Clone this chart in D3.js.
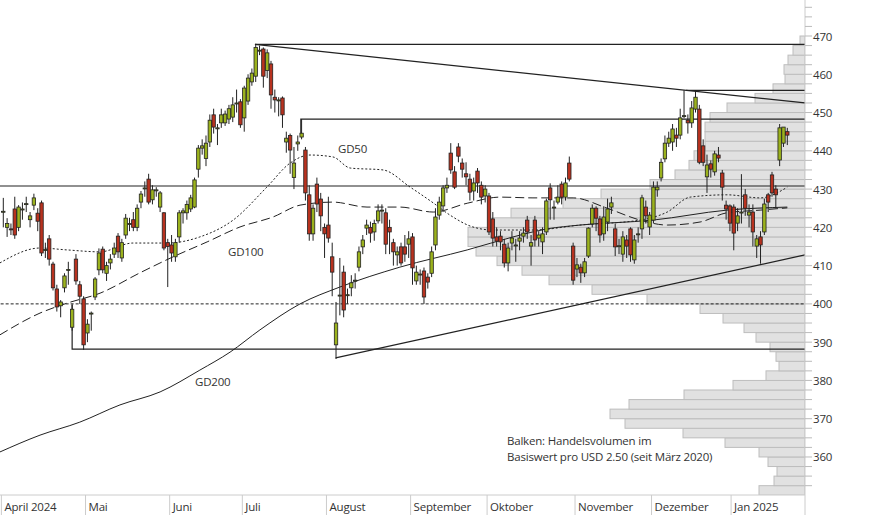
<!DOCTYPE html>
<html><head><meta charset="utf-8">
<script src="https://cdn.jsdelivr.net/npm/d3@7"></script>
<style>
body{margin:0;background:#fff;}
text{font-family:"Open Sans","Noto Sans",sans-serif;fill:#333;letter-spacing:-0.2px;}
</style></head>
<body><svg width="874" height="515"></svg>
<script>
const svg=d3.select('svg');
const width=+svg.attr('width'), height=+svg.attr('height');
const plotRight=805, plotBottom=495;

// daily candles [open, high, low, close], April 2024 - Jan 2025
const candles=[
[424,427.7,420,424.2],[420,422.4,417.5,421],[419.6,421,418,419.4],[424.8,428,417,418],[420,425.8,419,425.3],
[424.6,426.5,422,424.8],[426,428,424,426.2],[422,424,420,423],[425.8,428.8,424.5,427.7],[423.7,425,419,421.6],
[426.4,427,412.5,413.3],[414,416,412,414.2],[417,418,410,411.7],[410.4,411,403.5,404.2],[403.9,405,398,399.2],
[399.5,401,396.5,400.5],[404.2,408,403,407.3],[408.8,411,405,409],[393.9,400,393,398.6],[411.7,413,405,406],
[405,406,400,402],[401.3,402,388,389.3],[392.4,396,390,394.7],[397.4,398,393,397.6],[401.8,407,401,406.5],
[408.9,414.5,407.5,413.3],[414.3,415,408,408.9],[408,411,406,410],[410.7,413,409,411.7],[413,416,412,414.6],
[417.7,418.5,412,413.6],[412,417,411,416],[418,423.5,417,422.4],[420.8,422.5,419,421],[422,424,419,420],
[420,426,419,425],[426.6,429.5,425,428.7],[430.1,432,428,430.3],[432.6,434,426,426.6],[427.2,431,426,429.8],
[429.6,430.5,428,429.8],[425.3,429.5,424,429],[423.8,424,414,414.6],[416,417,404.4,415],[415.4,418,411,413.3],
[412.3,417,411,416],[417.5,424.5,416,423.8],[423.8,425,421,424.3],[423.8,427,422,426],[424.8,428.5,424,427.7],
[425.3,433,425,432.4],[435.2,441.5,433,440.7],[440.7,443,439,441.3],[438,444,436,442],[442.3,449.5,441,448],
[449.4,451,444.5,446.2],[445.8,447,441.5,446],[447.3,451,446,449.4],[447.3,450.5,446.5,449.6],[448.3,452,447,451],
[448.8,454,447.5,452],[452.3,456,450,452.5],[452.8,453.5,446,446.8],[448.6,457,445,456.4],[453,460,452,459],
[458,461.5,457,460.3],[459.5,467.8,458,467],[466.1,467.5,465,466.3],[466.6,467,456.5,459.5],[461,466.5,459,465.6],
[462.7,463.5,451,454.6],[454,456,450,453.3],[453.1,454,449,453.3],[453.8,454.2,446,449.4],[442.3,445,439.5,443.3],
[444,444.5,434,440.2],[433,441,430,436.8],[441.8,444,440,442.3],[443.6,448.3,443,444.6],[440.2,441,427,429],
[428.5,431,416.5,418.3],[418.3,426,416.5,425],[431.3,433,424,426.1],[427.4,429,419,423],[420,421,412,418.3],
[420.6,428,416,417.2],[412.3,416,402,408.3],[389.3,400.5,385.6,395],[402.1,412,397,402.3],[408.3,410,396.5,398.4],
[402.2,404,400,402.4],[404.2,407.5,402,405.5],[406,408,404,406.2],[409.6,415,408.5,413.6],[414.9,418,413,416.7],
[419.8,422,418,420.6],[420,421.5,416,418.5],[418.8,422,416.5,421],[421.7,426,421,424.3],[424.3,426,421,424.5],
[423.8,425,413,415.6],[420,422,413,418.8],[416,417,410,413.6],[412.8,415,410,413.6],[414.9,416,410,410.7],
[414.9,418,411,413],[415.6,419,412,417],[417.5,418.5,405,409.4],[406,410,405,408.3],[407.6,409,405,407.8],
[408.6,409.5,400,401.8],[407,408,404,405.7],[408,415,407,413.6],[415.4,425,414,422.7],[423.2,428,422,426.6],
[425.6,431,424,430.3],[430.3,433,429,431],[439.4,442,434,435],[434.5,436,430,430.5],[441,442,437,438.6],
[436.8,438,433,435.2],[434,437,431,433.2],[432.6,434,427,429.2],[429.5,433,427,431.6],[434.7,435.5,429,431.6],
[431,432,426,427.9],[428.2,431,426.5,430],[428.2,429,418,418.8],[422.2,424,415,417.2],[417.5,420,415,416.4],
[417.7,419,414,416.2],[415.6,417,409.5,410.7],[410.7,416,408.5,414.6],[415.9,419,414,417.2],[415.2,417,411,415.4],
[416.4,419,414,417.2],[417.7,420,416,418.5],[421.9,423,417,418.8],[415.1,418,410,416],[421.9,423,415,416.7],
[417.2,419,415,418],[416.2,420,413,418.3],[418.8,427.5,418,426.9],[430.3,431.5,422,427.2],[425.1,427,422,425.3],
[426.6,431,426,427.9],[431.3,432,426,427.9],[427.9,433,427,431.6],[436.8,438.5,432,432.6],[415.1,416,405,406.2],
[409.1,412,407,410.2],[409.6,410.5,405.5,408.1],[408.1,412,407,411],[412.5,420,412,419.8],[420.9,426,420,425],
[425,425.5,419,422.4],[422.2,423,416,418],[418.3,425.5,416.5,422.7],[421.4,427.5,419,424.8],[425.3,428,423.5,426.4],
[419.6,421,412.5,414.9],[415,417,413,415.2],[413,419,411,417.5],[416.7,418,412,415.1],[419.6,420,411,412.8],
[411.5,418,410.5,416.7],[418.1,420,416,418.3],[419.6,428.5,417,427.7],[425.3,427,421,423],[420.1,424,418,423.2],
[421.9,432,421,430.5],[429.8,432,428,430.5],[432.9,438,432,437],[437.9,444,437,442],[442,445,441,443.3],
[442.3,447,440,445.7],[444.1,446,441,443.3],[444.1,451,443,448.6],[449,455.8,448.5,449.2],[448,449.5,444.5,447.3],
[447.3,453,446,451.2],[450.9,455.8,450,454],[450.9,452,436.5,437],[441.3,443,436,437],[433.2,439,429,436.3],
[436.6,437.5,433,435.2],[434.5,440,433.5,439.2],[438.9,441,437,438.1],[434.2,435,427,430.5],[425.8,427,422,424.8],
[425.6,426,419,421.1],[425.3,426,414,418.5],[421.1,425,419,423],[423.9,433.9,421,424],[428.5,430,423,425],
[423.2,426,420,424],[424,426,415,418.8],[415.1,418,412,417],[417.5,419,410.5,415.4],[418.8,427.5,418,426.1],
[428.5,429,424,426.6],[433.7,434.5,428,429],[430,431,425,428.5],[437.6,447,436,446],[442,446.2,441,446.2],
[445,446,441.5,444.1]
];

// moving averages, [trading-day index, value]
const gd50=[[-0.9,410.7],[9.6,414.6],[16.7,414.1],[25.3,413.6],[33.9,415.9],[42.8,415.9],[51.4,417.5],[60.1,421.9],
[68.9,430.5],[75,436.8],[80.2,438.9],[86.2,438.4],[90.7,435.5],[99.3,435],[106.4,430.5],[112.4,426.4],[116.8,423.2],
[122.8,420.1],[128.1,419.3],[138.5,419.3],[150.8,420.6],[166.5,421.9],[173.6,424],[179.6,427.9],[189.2,428.5],
[197.9,427.7],[205,430.5]];
const gd100=[[-0.9,391.9],[9.6,397.6],[16.7,400.2],[25.3,402.8],[35.7,408.1],[44.4,412.3],[53.3,416.2],[61.9,420.1],
[70.5,422.7],[77.6,425.8],[86.2,426.6],[95.1,425.3],[103.7,425.3],[112.4,424],[121.3,426.3],[129.9,427.9],[138.5,427.7],
[149,427.7],[157.9,425],[166.5,421.9],[173.6,420.6],[182.2,421.4],[189.2,423.8],[197.9,424.5],[205,425.1]];
const gd200=[[-0.9,361.3],[9.6,365.7],[20,369.1],[30.5,373.6],[41,377],[51.4,382.7],[59.3,387.4],[67.1,393.2],
[77.6,400],[88,404.4],[103.7,409.6],[121.3,414.1],[133.3,417.5],[142.2,419.6],[150.8,420.6],[169.9,421.9],
[189.2,424.5],[205,425.3]];

// volume profile per USD 2.50 band, from 350 upward
const volLevels=d3.range(350,470,2.5);
const volWidths=[46,31,28,37,46,80,122,180,195,176,121,72,39,26,29,35,49,61,82,105,
158,213,256,283,308,329,337,337,313,294,242,204,155,130,116,111,100,100,100,95,
78,50,32,20,21,17,12,5];

const monthTicks=[-0.5,21.5,43.5,62.5,84.5,106.5,126.5,149.5,169.5,190.3];
const monthLabels=['April 2024','Mai','Juni','Juli','August','September','Oktober','November','Dezember','Jan 2025'];
const priceTicks=d3.range(360,471,10);

const x=d3.scaleLinear().domain([0,205]).range([3.3,787.3]);
const y=d3.scaleLinear().domain([350,470]).range([36+120*3.827,36]);
const xEnd=x.invert(plotRight);
const vx=d3.scaleLinear().domain([0,400]).range([0,400]);

const plot=svg.append('g');
svg.append('defs').append('clipPath').attr('id','clip')
  .append('rect').attr('width',plotRight).attr('height',plotBottom);
plot.attr('clip-path','url(#clip)');

// volume bars
plot.selectAll('rect.vol').data(volLevels).enter().append('rect')
  .attr('x',(d,i)=>plotRight-vx(volWidths[i]))
  .attr('y',d=>y(d+2.5))
  .attr('width',(d,i)=>vx(volWidths[i]))
  .attr('height',d=>y(d)-y(d+2.5))
  .attr('fill','#e1e1e1').attr('stroke','#bdbdbd').attr('stroke-width',1);

// support / resistance lines
const lines=[
  [[65.8,467.8],[xEnd,467.8]],
  [[65.8,467.8],[xEnd,452.5]],
  [[178.5,455.8],[xEnd,455.8]],
  [[77.8,444.6],[77.8,448.3],[xEnd,448.3]],
  [[-2,430.8],[xEnd,430.8]],
  [[18,399.7],[18,388.2],[xEnd,388.2]],
  [[86.9,385.9],[xEnd,412.8]]
];
const ln=d3.line().x(d=>x(d[0])).y(d=>y(d[1]));
lines.forEach(l=>plot.append('path').attr('d',ln(l)).attr('fill','none')
  .attr('stroke','#222').attr('stroke-width',1.2));
plot.append('path').attr('d',ln([[-2,400],[xEnd,400]])).attr('fill','none')
  .attr('stroke','#222').attr('stroke-dasharray','3,2');

// moving averages
const curve=d3.line().x(d=>x(d[0])).y(d=>y(d[1])).curve(d3.curveMonotoneX);
plot.append('path').attr('d',curve(gd50)).attr('fill','none').attr('stroke','#222').attr('stroke-dasharray','2,2');
plot.append('path').attr('d',curve(gd100)).attr('fill','none').attr('stroke','#222').attr('stroke-dasharray','9,4');
plot.append('path').attr('d',curve(gd200)).attr('fill','none').attr('stroke','#222');

// candles
const cg=plot.selectAll('g.c').data(candles).enter().append('g');
cg.append('line')
  .attr('x1',(d,i)=>x(i)).attr('x2',(d,i)=>x(i))
  .attr('y1',d=>y(d[1])).attr('y2',d=>y(d[2]))
  .attr('stroke','#222');
cg.append('rect')
  .attr('x',(d,i)=>x(i)-1.7).attr('width',3.4)
  .attr('y',d=>y(Math.max(d[0],d[3])))
  .attr('height',d=>Math.max(1,Math.abs(y(d[0])-y(d[3]))))
  .attr('fill',d=>d[3]>=d[0]?'#9bb21d':'#b8321f')
  .attr('stroke','#222').attr('stroke-width',0.8);

// labels
[['GD50',338,153],['GD100',228,256],['GD200',195,386]].forEach(t=>
  svg.append('text').attr('x',t[1]).attr('y',t[2]).attr('font-size',11.5).text(t[0]));
svg.append('text').attr('x',507).attr('y',445).attr('font-size',11.5).text('Balken: Handelsvolumen im');
svg.append('text').attr('x',507).attr('y',461).attr('font-size',11.5).text('Basiswert pro USD 2.50 (seit März 2020)');

// right axis
svg.append('line').attr('x1',plotRight).attr('x2',plotRight).attr('y1',0).attr('y2',height).attr('stroke','#ccc');
svg.selectAll('line.minor').data(d3.range(352.5,480,2.5)).enter().append('line')
  .attr('x1',plotRight).attr('x2',plotRight+7).attr('y1',d=>y(d)).attr('y2',d=>y(d)).attr('stroke','#bbb');
svg.selectAll('text.pt').data(priceTicks).enter().append('text')
  .attr('x',813).attr('y',d=>y(d)+4.5).attr('font-size',11.5).text(d=>d);

// bottom axis
svg.append('line').attr('x1',0).attr('x2',plotRight).attr('y1',plotBottom).attr('y2',plotBottom).attr('stroke','#ccc');
svg.selectAll('line.mt').data(monthTicks).enter().append('line')
  .attr('x1',d=>Math.max(1,x(d))).attr('x2',d=>Math.max(1,x(d))).attr('y1',plotBottom).attr('y2',height).attr('stroke','#ccc');
svg.selectAll('text.mt').data(monthTicks).enter().append('text')
  .attr('x',d=>Math.max(1,x(d))+3).attr('y',511).attr('font-size',11.5).text((d,i)=>monthLabels[i]);
</script></body></html>
